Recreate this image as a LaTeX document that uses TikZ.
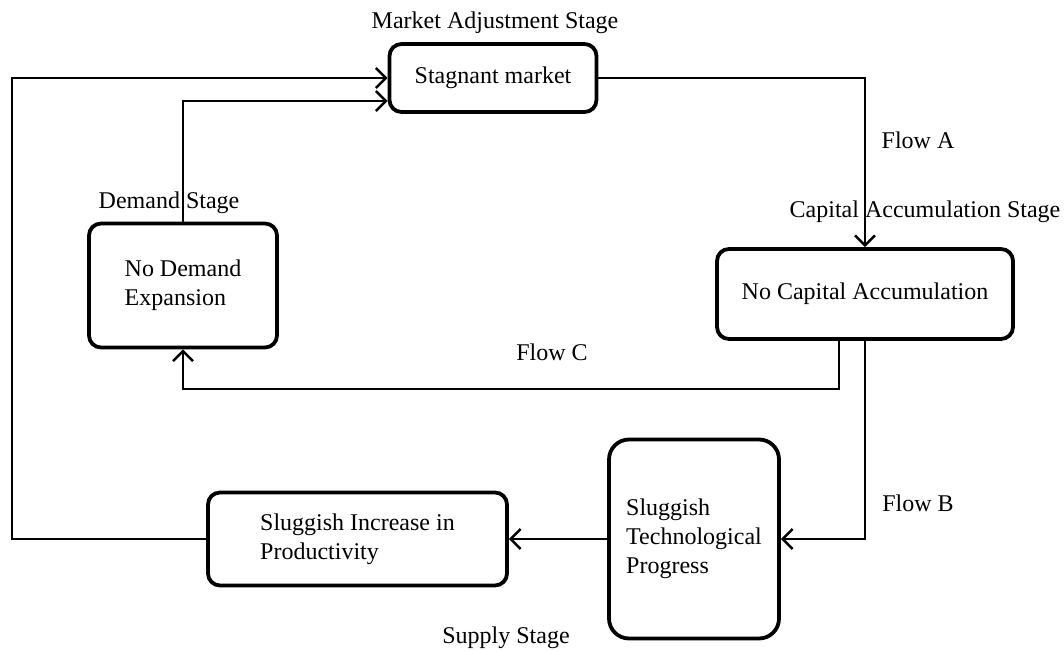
\documentclass[tikz,border=0pt]{standalone}
\usepackage{fontspec}
\setmainfont{Liberation Serif}
\usetikzlibrary{arrows.meta}

\tikzset{
    stagebox/.style={draw, line width=1.9pt, rounded corners=6pt, inner sep=0pt, font=\fontsize{12}{14.5}\selectfont},
    stagetext/.style={inner sep=0pt, font=\fontsize{12}{14}\selectfont},
    flow/.style={line width=0.9pt, -{Straight Barb[length=5pt, width=10pt, line width=1.2pt]}}
}

\begin{document}
\begin{tikzpicture}[x=0.5pt, y=-0.5pt]
        \useasboundingbox (0,0) rectangle (1064,651);
        \node[stagebox, minimum width=103.5pt, minimum height=34pt] (market) at (493,78) {Stagnant market};
        \node[stagebox, minimum width=94pt, minimum height=62pt] (demand) at (183,285.5) {\raisebox{3pt}{\begin{tabular}{l}No Demand\\ Expansion\end{tabular}}};
        \node[stagebox, minimum width=148pt, minimum height=45pt] (capital) at (865,294) {No Capital Accumulation};
        \node[stagebox, rounded corners=10pt, minimum width=85pt, minimum height=99.5pt] (tech) at (694,539) {\begin{tabular}{l}Sluggish\\ Technological\\ Progress\end{tabular}};
        \node[stagebox, minimum width=149.5pt, minimum height=46.5pt] (prod) at (357.5,539) {\begin{tabular}{l}Sluggish Increase in\\ Productivity\end{tabular}};

        \node[stagetext] (marketlbl) at (495,23) {Market Adjustment Stage};
        \node[stagetext] (demandlbl) at (169,203) {Demand Stage};
        \node[stagetext] (capitallbl) at (925,212) {Capital Accumulation Stage};
        \node[stagetext] (supplylbl) at (506,638) {Supply Stage};
        \node[stagetext] (flowa) at (918,140) {Flow A};
        \node[stagetext] (flowb) at (918,503) {Flow B};
        \node[stagetext] (flowc) at (552,352) {Flow C};

        \draw [flow] (market.east) -| (capital.north);
        \draw [flow] (capital.south) |- (tech.east);
        \draw [flow] ([xshift=-13pt]capital.south) -- ++(0,48) -| (demand.south);
        \draw [flow] (tech.west) -- (prod.east);
        \draw [flow] (prod.west) -- ++(-194,0) |- (market.west);
        \draw [flow] (demand.north) |- ([yshift=-11.5pt]market.west);
\end{tikzpicture}
\end{document}
